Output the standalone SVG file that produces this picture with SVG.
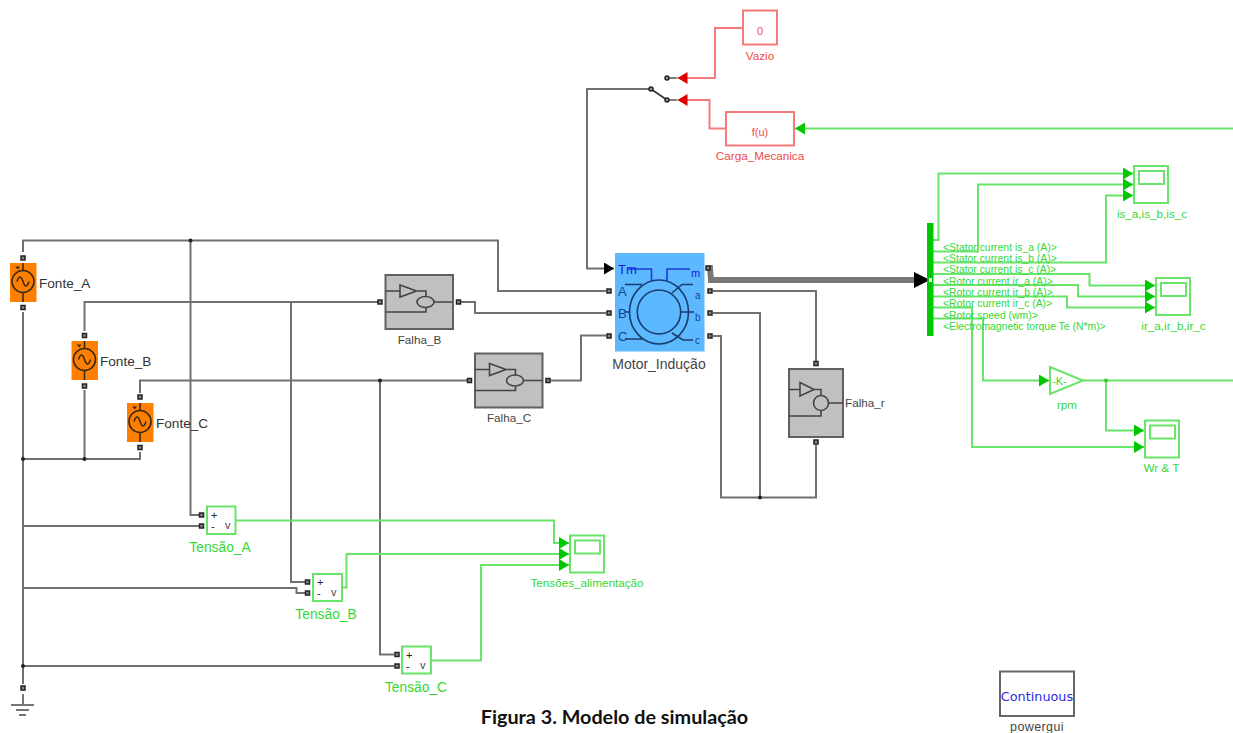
<svg xmlns="http://www.w3.org/2000/svg" xmlns:xlink="http://www.w3.org/1999/xlink" width="1233" height="733" viewBox="0 0 1233 733">
<style>
text{font-family:"Liberation Sans",Arial,sans-serif}
.w{fill:none;stroke:#707070;stroke-width:2}
.g{fill:none;stroke:#68e468;stroke-width:2}
.r{fill:none;stroke:#f77a7a;stroke-width:2}
.port{fill:#888;stroke:#222;stroke-width:1.5}
.j{fill:#222}
.jg{fill:#2fce2f}
.gb{fill:#fff;stroke:#68e468;stroke-width:2}
.rb{fill:#fff;stroke:#f77a7a;stroke-width:2}
.fb{fill:#c0c0c0;stroke:#606060;stroke-width:2}
.fl{fill:none;stroke:#444;stroke-width:1.6}
.gl{fill:#35d835;font-size:11.7px}
.bus{fill:#35d835;font-size:10.4px}
.gl2{fill:#35d835;font-size:13.8px}
.rl{fill:#f04a4a;font-size:11.7px}
.kl{fill:#444;font-size:11.7px}
.sl{fill:#333;font-size:13.6px}
.mb{fill:none;stroke:#1a3c6e;stroke-width:1.6}
.bl{fill:none;stroke:#1f3bd8;stroke-width:1.6}
.c{text-anchor:middle}
</style>
<defs>
<marker id="ag" markerUnits="userSpaceOnUse" markerWidth="10" markerHeight="12" refX="10" refY="6" orient="auto"><path d="M0 0L10 6L0 12z" fill="#00c800"/></marker>
<marker id="ar" markerUnits="userSpaceOnUse" markerWidth="10" markerHeight="12" refX="10" refY="6" orient="auto"><path d="M0 0L10 6L0 12z" fill="#e00000"/></marker>
<marker id="ak" markerUnits="userSpaceOnUse" markerWidth="10" markerHeight="12" refX="10" refY="6" orient="auto"><path d="M0 0L10 6L0 12z" fill="#000"/></marker>
<g id="src">
<rect x="-13" y="-19.5" width="26.5" height="39" fill="#ff8000"/>
<circle r="11" cy="-1" fill="none" stroke="#3a2a10" stroke-width="1.6"/>
<path d="M0 -19.5V-12M0 10V19.5M-6 -1C-4 -7 -2 -7 0 -1S4 5 6 -1" fill="none" stroke="#3a2a10" stroke-width="1.6"/>
<path d="M-8 -16L-3 -16L-5 -13z" fill="#3a2a10"/>
</g>
<g id="fault">
<rect x="0" y="0" width="67.5" height="54" class="fb"/>
<path d="M14.5 10L31 16L14.5 22zM0 16H14.5M31 16H40.5V22M0 37H40.5V33M48.5 27H67.5" class="fl"/>
<ellipse cx="40" cy="27" rx="8.5" ry="5.5" class="fl"/>
</g>
<g id="scope">
<rect x="0" y="0" width="34" height="37" class="gb"/>
<rect x="5" y="5" width="25" height="13" class="gb"/>
</g>
</defs>
<rect width="1233" height="733" fill="#fff"/>

<g id="connectors">
<path class="w" d="M23 252V240.5H498V291H606M84.500 331V302H380M140 393V380.500H467"/>
<path class="w" d="M190.500 240.500V515H199M291 302V582H305M380 380.500V654.500H394"/>
<path class="w" d="M23 312V684M23 459H140V452M84.500 390V459M23 526H199M23 588H296.500V593H305M23 666H394"/>
<path class="w" d="M461 302H475V313H606M551 380.500H581V335.500H606"/>
<path class="w" d="M713 291H816V361M713 313H760V497.500M713 336H721V497.500H816V445"/>
<path class="w" d="M651 89H587V268.500H614" marker-end="url(#ak)"/>
<path d="M708 268H710L711 280H914" fill="none" stroke="#777" stroke-width="6"/>
<polygon points="914,272 930,280 914,288" fill="#000"/>
<path class="r" d="M743 28H715V78H677.500" marker-end="url(#ar)"/>
<path class="r" d="M726 128.500H709.500V100H677.500" marker-end="url(#ar)"/>
<path class="g" d="M1233 128.500H795" marker-end="url(#ag)"/>
<path class="g" d="M933 240H938.500V173.500H1133" marker-end="url(#ag)"/>
<path class="g" d="M933 251.500H978V184.500H1133" marker-end="url(#ag)"/>
<path class="g" d="M933 262.500H1106V195.500H1133" marker-end="url(#ag)"/>
<path class="g" d="M933 274H1089.500V285.500H1155" marker-end="url(#ag)"/>
<path class="g" d="M933 285H1078V296.500H1155" marker-end="url(#ag)"/>
<path class="g" d="M933 296.500H1067V307.500H1155" marker-end="url(#ag)"/>
<path class="g" d="M933 307.500H972V447H1144" marker-end="url(#ag)"/>
<path class="g" d="M933 318.500H983V380.500H1049" marker-end="url(#ag)"/>
<path class="g" d="M1083 380.500H1233"/>
<path class="g" d="M1106 380.500V430.500H1144" marker-end="url(#ag)"/>
<path class="g" d="M235.500 520.500H554V543H569" marker-end="url(#ag)"/>
<path class="g" d="M342 587.500H346.500V554H569" marker-end="url(#ag)"/>
<path class="g" d="M431 660.500H481V565H569" marker-end="url(#ag)"/>
<circle class="j" cx="190.500" cy="240.500" r="2"/><circle class="j" cx="23" cy="459" r="2"/><circle class="j" cx="84.500" cy="459" r="2"/><circle class="j" cx="23" cy="666" r="2"/><circle class="j" cx="380" cy="380.500" r="2"/><circle class="j" cx="760" cy="497.500" r="2"/><circle class="jg" cx="1106" cy="380.500" r="2"/>
</g>

<g id="Fonte_A"><use xlink:href="#src" href="#src" x="23" y="282.500"/><rect class="port" x="21" y="256" width="4" height="4"/><rect class="port" x="21" y="305.500" width="4" height="4"/><text class="sl" x="39" y="288">Fonte_A</text></g>
<g id="Fonte_B"><use xlink:href="#src" href="#src" x="84.500" y="360.500"/><rect class="port" x="82.500" y="333.500" width="4" height="4"/><rect class="port" x="82.500" y="384" width="4" height="4"/><text class="sl" x="100" y="366">Fonte_B</text></g>
<g id="Fonte_C"><use xlink:href="#src" href="#src" x="140" y="422.500"/><rect class="port" x="138" y="395" width="4" height="4"/><rect class="port" x="138" y="445.500" width="4" height="4"/><text class="sl" x="156" y="428">Fonte_C</text></g>

<g id="Ground"><rect class="port" x="21" y="686" width="4" height="4"/><path d="M23 694V705M11 705H34M16 710H29M19 715H26" fill="none" stroke="#777" stroke-width="2"/></g>

<g id="Falha_B"><use xlink:href="#fault" href="#fault" x="385.500" y="275"/><rect class="port" x="378" y="300" width="4" height="4"/><rect class="port" x="456.500" y="300" width="4" height="4"/><text class="kl c" x="419.500" y="344">Falha_B</text></g>
<g id="Falha_C"><use xlink:href="#fault" href="#fault" x="475" y="353.500"/><rect class="port" x="467.500" y="378.500" width="4" height="4"/><rect class="port" x="546" y="378.500" width="4" height="4"/><text class="kl c" x="509" y="422">Falha_C</text></g>
<g id="Falha_r">
<rect x="789" y="369" width="54" height="68" class="fb"/>
<path d="M800 382.500L814 389.500L800 396zM789 389.500H800M814 389.500H821V396M789 416H821V410M828.500 403H843" class="fl"/>
<circle cx="821" cy="403" r="7.500" class="fl"/>
<rect class="port" x="814" y="361.500" width="4" height="4"/><rect class="port" x="814" y="440" width="4" height="4"/>
<text class="kl" x="845" y="407">Falha_r</text>
</g>

<g id="Motor_Inducao">
<rect x="615" y="253" width="89.500" height="98.500" fill="#5cb8ff"/>
<ellipse cx="659" cy="312" rx="29.500" ry="32" class="mb"/>
<ellipse cx="659" cy="312" rx="21.700" ry="22" class="mb"/>
<path class="mb" d="M625 284.500H642M625 312H630M625 339H643M693 284.500H682L672 293M681 312H694M672 333L683 340H693"/>
<path class="bl" d="M628 269H651.500V282M667 282V269H690"/>
<text x="618" y="274" font-size="13" fill="#1a1ae0">Tm</text>
<text x="691" y="277" font-size="11" fill="#1a1ae0">m</text>
<text x="618" y="296" font-size="13" fill="#1c3f8f">A</text>
<text x="618" y="318" font-size="13" fill="#1c3f8f">B</text>
<text x="618" y="341" font-size="13" fill="#1c3f8f">C</text>
<text x="695" y="299" font-size="10" fill="#1c3f8f">a</text>
<text x="695" y="321" font-size="10" fill="#1c3f8f">b</text>
<text x="695" y="344" font-size="10" fill="#1c3f8f">c</text>
<rect class="port" x="607" y="289" width="4" height="4"/><rect class="port" x="607" y="311" width="4" height="4"/><rect class="port" x="607" y="334" width="4" height="4"/>
<rect class="port" x="706" y="266" width="4" height="4"/><rect class="port" x="708" y="289" width="4" height="4"/><rect class="port" x="708" y="311" width="4" height="4"/><rect class="port" x="708" y="334" width="4" height="4"/>
<text class="c" x="659" y="369" font-size="14" fill="#444">Motor_Indução</text>
</g>

<g id="Switch">
<path d="M651 89L667 100" fill="none" stroke="#333" stroke-width="1.600"/>
<path d="M667 78H677M667 100H677" fill="none" stroke="#555" stroke-width="1.500"/>
<circle cx="651" cy="89" r="2" fill="#999" stroke="#222" stroke-width="1.500"/>
<circle cx="667" cy="78" r="2" fill="#999" stroke="#222" stroke-width="1.500"/>
<circle cx="667" cy="100" r="2" fill="#999" stroke="#222" stroke-width="1.500"/>
</g>
<g id="Vazio"><rect class="rb" x="743" y="10.500" width="34" height="34"/><text class="c" x="760" y="35" font-size="11" fill="#f04a4a">0</text><text class="rl c" x="760" y="60">Vazio</text></g>
<g id="Carga_Mecanica"><rect class="rb" x="726" y="112" width="68" height="33.500"/><text class="c" x="760" y="136" font-size="11" fill="#f04a4a">f(u)</text><text class="rl c" x="760" y="160">Carga_Mecanica</text></g>

<g id="Bus"><rect x="927" y="223" width="6.500" height="113" fill="#00c800"/><rect x="929" y="278" width="3" height="4" fill="#e8ffe8"/>
<text class="bus" x="943" y="251">&lt;Stator current is_a (A)&gt;</text>
<text class="bus" x="943" y="262">&lt;Stator current is_b (A)&gt;</text>
<text class="bus" x="943" y="273">&lt;Stator current is_c (A)&gt;</text>
<text class="bus" x="943" y="285">&lt;Rotor current ir_a (A)&gt;</text>
<text class="bus" x="943" y="296">&lt;Rotor current ir_b (A)&gt;</text>
<text class="bus" x="943" y="307">&lt;Rotor current ir_c (A)&gt;</text>
<text class="bus" x="943" y="319">&lt;Rotor speed (wm)&gt;</text>
<text class="bus" x="943" y="330">&lt;Electromagnetic torque Te (N*m)&gt;</text>
</g>

<g id="is_scope"><use xlink:href="#scope" href="#scope" x="1134" y="166"/><text class="gl c" x="1152" y="217.500">is_a,is_b,is_c</text></g>
<g id="ir_scope"><use xlink:href="#scope" href="#scope" x="1156" y="278"/><text class="gl c" x="1173.500" y="329.500">ir_a,ir_b,ir_c</text></g>
<g id="wr_scope"><use xlink:href="#scope" href="#scope" x="1145" y="420.500"/><text class="gl c" x="1161.500" y="472">Wr &amp; T</text></g>
<g id="tensoes_scope"><use xlink:href="#scope" href="#scope" x="570" y="535.500"/><text class="gl c" x="587" y="587">Tensões_alimentação</text></g>

<g id="rpm"><polygon points="1050,367 1083,380.500 1050,394" class="gb"/><text x="1052" y="385" font-size="11" fill="#35d835">-K-</text><text class="gl c" x="1067" y="409">rpm</text></g>

<g id="Tensao_A"><rect class="gb" x="207" y="506.500" width="28.500" height="27.500"/><text x="211" y="519" font-size="11" fill="#222">+</text><text x="211" y="530" font-size="11" fill="#222">-</text><text x="225" y="529" font-size="11" fill="#444">v</text><rect class="port" x="199.500" y="513" width="4" height="4"/><rect class="port" x="199.500" y="524" width="4" height="4"/><text class="gl2 c" x="220" y="552">Tensão_A</text></g>
<g id="Tensao_B"><rect class="gb" x="313" y="574" width="29" height="27"/><text x="317" y="586" font-size="11" fill="#222">+</text><text x="317" y="597" font-size="11" fill="#222">-</text><text x="331" y="596" font-size="11" fill="#444">v</text><rect class="port" x="305.500" y="580" width="4" height="4"/><rect class="port" x="305.500" y="591" width="4" height="4"/><text class="gl2 c" x="326" y="619">Tensão_B</text></g>
<g id="Tensao_C"><rect class="gb" x="402" y="646.500" width="29" height="27"/><text x="406" y="659" font-size="11" fill="#222">+</text><text x="406" y="670" font-size="11" fill="#222">-</text><text x="420" y="669" font-size="11" fill="#444">v</text><rect class="port" x="395" y="652.500" width="4" height="4"/><rect class="port" x="395" y="664" width="4" height="4"/><text class="gl2 c" x="416" y="692">Tensão_C</text></g>

<g id="powergui"><rect x="1000" y="671.500" width="74" height="44.500" fill="#fff" stroke="#666" stroke-width="2"/><text class="c" x="1037" y="701" font-size="12.800" fill="#2a2ae6" style="font-family:'DejaVu Sans',sans-serif">Continuous</text><text class="c" x="1037" y="731" font-size="12.500" fill="#444" letter-spacing="0.400">powergui</text></g>

<text class="c" x="614.500" y="724" font-size="19.800" font-weight="700" fill="#111" style="font-family:Lato,'Liberation Sans',sans-serif">Figura 3. Modelo de simulação</text>
</svg>
